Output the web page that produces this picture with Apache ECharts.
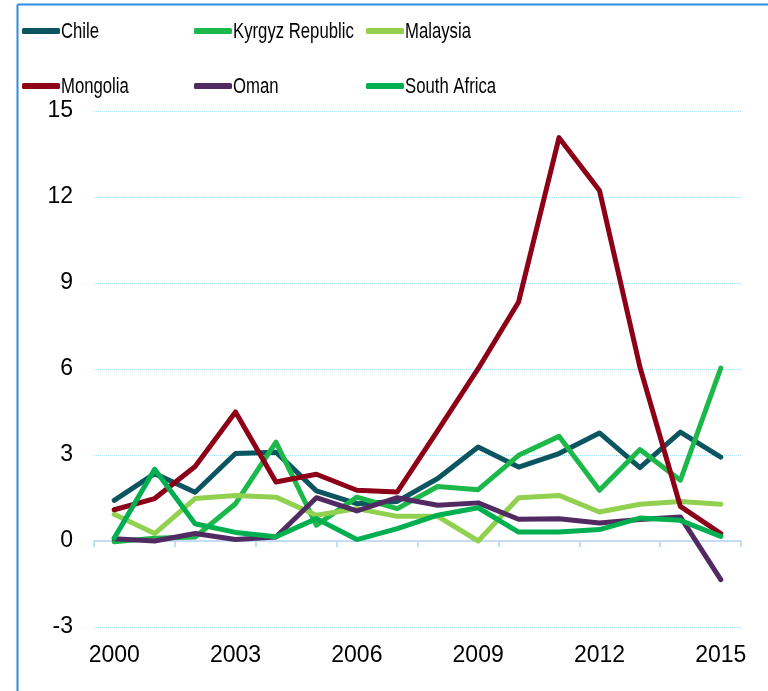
<!DOCTYPE html>
<html>
<head>
<meta charset="utf-8">
<script src="https://cdn.jsdelivr.net/npm/echarts@6/dist/echarts.min.js"></script>
<style>
html,body{margin:0;padding:0;background:#fff;}
#chart{width:768px;height:691px;}
</style>
</head>
<body>
<div id="chart"></div>
<script>
var years = ['2000','2001','2002','2003','2004','2005','2006','2007','2008','2009','2010','2011','2012','2013','2014','2015'];
var seriesNames = ['Chile','Kyrgyz Republic','Malaysia','Mongolia','Oman','South Africa'];
var chile       = [1.42, 2.35, 1.7, 3.05, 3.1, 1.75, 1.3, 1.38, 2.18, 3.28, 2.58, 3.05, 3.77, 2.56, 3.8, 2.93];
var kyrgyz      = [-0.03, 0.1, 0.14, 1.3, 3.45, 0.55, 1.53, 1.13, 1.9, 1.79, 2.99, 3.65, 1.77, 3.19, 2.12, 6.03];
var malaysia    = [0.93, 0.26, 1.48, 1.59, 1.53, 0.9, 1.13, 0.86, 0.86, 0.0, 1.51, 1.59, 1.01, 1.28, 1.38, 1.28];
var mongolia    = [1.09, 1.48, 2.6, 4.5, 2.06, 2.33, 1.77, 1.71, 3.85, 6.01, 8.34, 14.07, 12.23, 6.07, 1.21, 0.26];
var oman        = [0.08, 0.0, 0.26, 0.05, 0.14, 1.51, 1.05, 1.51, 1.25, 1.33, 0.76, 0.78, 0.63, 0.75, 0.84, -1.35];
var southAfrica = [0.1, 2.5, 0.6, 0.3, 0.15, 0.78, 0.05, 0.43, 0.9, 1.16, 0.31, 0.31, 0.4, 0.8, 0.72, 0.16];
var yTicks = {min: -3, max: 15, interval: 3};

var values = [chile, kyrgyz, malaysia, mongolia, oman, southAfrica];
var colors = ['#0b5560', '#1cb84a', '#92d050', '#8c0018', '#522a62', '#00b050'];

var chart = echarts.init(document.getElementById('chart'), null, {renderer: 'canvas'});

var legendPos = [
  {left: 22, cy: 31}, {left: 194, cy: 31}, {left: 366, cy: 31},
  {left: 22, cy: 86}, {left: 194, cy: 86}, {left: 366, cy: 86}
];
var legends = seriesNames.map(function (n, i) {
  return {
    data: [n],
    left: legendPos[i].left,
    top: legendPos[i].cy - 11,
    padding: 0,
    itemWidth: 38,
    itemHeight: 6,
    icon: 'roundRect',
    formatter: function () { return ''; },
    textStyle: {fontSize: 20, lineHeight: 22, height: 22, width: 0}
  };
});

var legendTexts = seriesNames.map(function (n, i) {
  return {
    type: 'text',
    x: legendPos[i].left + 39,
    y: legendPos[i].cy + 1,
    scaleX: 0.76,
    silent: true,
    style: {
      text: n,
      fill: '#000',
      font: '22px "Liberation Sans", Arial, sans-serif',
      verticalAlign: 'middle',
      align: 'left'
    }
  };
});

var series = seriesNames.map(function (n, i) {
  return {
    name: n,
    type: 'line',
    data: values[i],
    symbol: 'none',
    smooth: false,
    color: colors[i],
    lineStyle: {width: 5, color: colors[i], join: 'round', cap: 'round'},
    z: 3
  };
});

chart.setOption({
  animation: false,
  backgroundColor: '#fff',
  legend: legends,
  grid: {left: 94, right: 27, top: 111, bottom: 64, containLabel: false},
  xAxis: [
    {
      type: 'category',
      data: years,
      position: 'bottom',
      boundaryGap: true,
      axisLine: {show: false, onZero: false},
      axisTick: {show: false},
      axisLabel: {
        interval: 2,
        margin: 17,
        fontFamily: '"Liberation Sans", Arial, sans-serif',
        fontSize: 23,
        color: '#000'
      },
      splitLine: {show: false}
    },
    {
      type: 'category',
      data: years,
      position: 'bottom',
      boundaryGap: true,
      axisLine: {show: true, onZero: true, onZeroAxisIndex: 0, lineStyle: {color: '#c5dbf6', width: 2}},
      axisTick: {show: true, interval: 1, length: 6, lineStyle: {color: '#c5dbf6', width: 2}},
      axisLabel: {show: false},
      splitLine: {show: false}
    }
  ],
  yAxis: {
    type: 'value',
    min: yTicks.min,
    max: yTicks.max,
    interval: yTicks.interval,
    axisLine: {show: false},
    axisTick: {show: false},
    axisLabel: {
      margin: 21,
      fontFamily: '"Liberation Sans", Arial, sans-serif',
      fontSize: 23,
      color: '#000'
    },
    splitLine: {show: true, lineStyle: {color: '#a8e2f0', type: 'dotted', width: 1}}
  },
  series: series,
  graphic: [
    {type: 'line', silent: true, shape: {x1: 17.5, y1: 4.5, x2: 768, y2: 4.5}, style: {stroke: '#2a8de2', lineWidth: 2}},
    {type: 'line', silent: true, shape: {x1: 17.5, y1: 4.5, x2: 17.5, y2: 691}, style: {stroke: '#2a8de2', lineWidth: 2}}
  ].concat(legendTexts)
});
</script>
</body>
</html>
